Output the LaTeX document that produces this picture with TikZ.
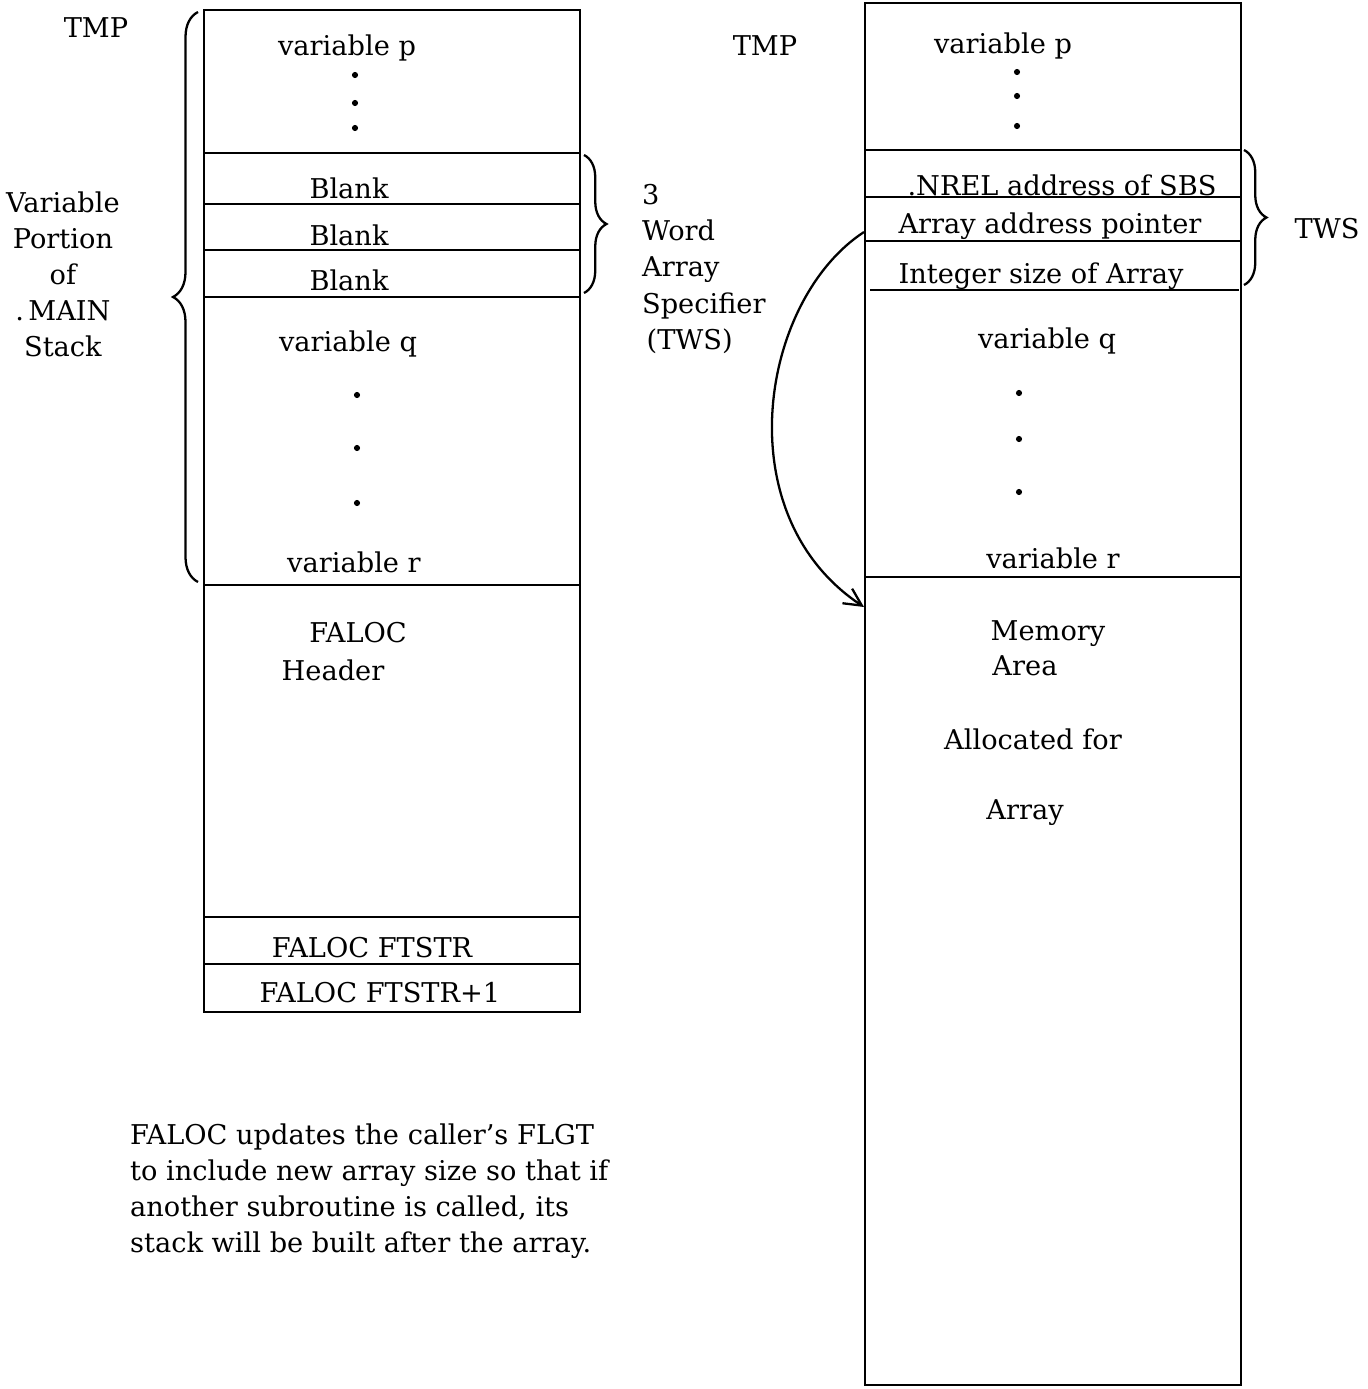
\documentclass[tikz,border=0pt]{standalone}
\usepackage{fontspec}
\setmainfont{DejaVu Serif}
\usetikzlibrary{arrows.meta,decorations.pathreplacing}
\begin{document}
\begin{tikzpicture}[x=0.02cm,y=-0.02cm,>={Straight Barb[length=3.5mm,width=3.5mm]},
    lbl/.style={inner sep=1pt,font=\fontsize{15.5}{20.5}\selectfont},
    para/.style={lbl,align=left,anchor=west},
    dot/.style={circle,fill,inner sep=0pt,minimum size=3.5pt},
    wall/.style={line width=1.3pt},
    brc/.style={decorate,decoration={brace,amplitude=#1},line width=1.3pt}]
  \useasboundingbox (0,0) rectangle (1367,1389);
  % left stack
  \draw[wall] (204,10) rectangle (580,1012);
  \foreach \y in {153,204,250,297,585,917,964} \draw[wall] (204,\y) -- (580,\y);
  \node[lbl] (lp) at (347,48) {variable p};
  \foreach \y [count=\i] in {75,103,128} \node[dot] (lpd\i) at (355,\y) {};
  \node[lbl] (b1) at (349,188) {Blank};
  \node[lbl] (b2) at (349,235) {Blank};
  \node[lbl] (b3) at (349,280) {Blank};
  \node[lbl] (lq) at (348,344) {variable q};
  \foreach \y [count=\i] in {395,448,503} \node[dot] (lqd\i) at (357,\y) {};
  \node[lbl] (lr) at (354,562) {variable r};
  \node[lbl] (fa) at (358,633) {FALOC};
  \node[lbl] (hd) at (333,670) {Header};
  \node[lbl] (fs) at (372,948) {FALOC FTSTR};
  \node[lbl] (fs1) at (380,993) {FALOC FTSTR+1};
  % left labels
  \node[lbl] (tmpl) at (96,28) {TMP};
  \node[para,align=center] (vp) at (4,274) {Variable\\Portion\\of\\.\,MAIN\\Stack};
  \draw[brc=0.5cm] (198,582) -- (198,12);
  \draw[brc=0.45cm] (584,155) -- (584,293);
  \node[para] (spec) at (640,269) {3\\Word\\Array\\Specifier\\\,(TWS)};
  % right stack
  \draw[wall] (865,3) rectangle (1241,1385);
  \foreach \y in {150,197,241,577} \draw[wall] (865,\y) -- (1241,\y);
  \draw[wall] (870,290) -- (1239,290);
  \node[lbl] (tmpr) at (765,46) {TMP};
  \node[lbl] (rp) at (1003,46) {variable p};
  \foreach \y [count=\i] in {72,96,126} \node[dot] (rpd\i) at (1017,\y) {};
  \node[lbl] (nrel) at (1062,185) {.NREL address of SBS};
  \node[lbl] (ptr) at (1050,226) {Array address pointer};
  \node[lbl] (isz) at (1041,276) {Integer size of Array};
  \node[lbl] (rq) at (1047,341) {variable q};
  \foreach \y [count=\i] in {393,439,492} \node[dot] (rqd\i) at (1019,\y) {};
  \node[lbl] (rr) at (1053,558) {variable r};
  \node[lbl] (mem) at (1048,634) {Memory};
  \node[lbl] (area) at (1025,666) {Area};
  \node[lbl] (alloc) at (1033,739) {Allocated for};
  \node[lbl] (arr) at (1025,813) {Array};
  \draw[brc=0.45cm] (1244,150) -- (1244,285);
  \node[lbl] (tws) at (1327,229) {TWS};
  % pointer arrow
  \coordinate (pfrom) at (864,232);
  \coordinate (pto) at (864,607);
  \draw[->,line width=1.3pt] (pfrom) .. controls (760,300) and (725,515) .. (pto);
  % note
  \node[para] (note) at (128,1191) {FALOC updates the caller's FLGT\\to include new array size so that if\\another subroutine is called, its\\stack will be built after the array.};
\end{tikzpicture}
\end{document}
